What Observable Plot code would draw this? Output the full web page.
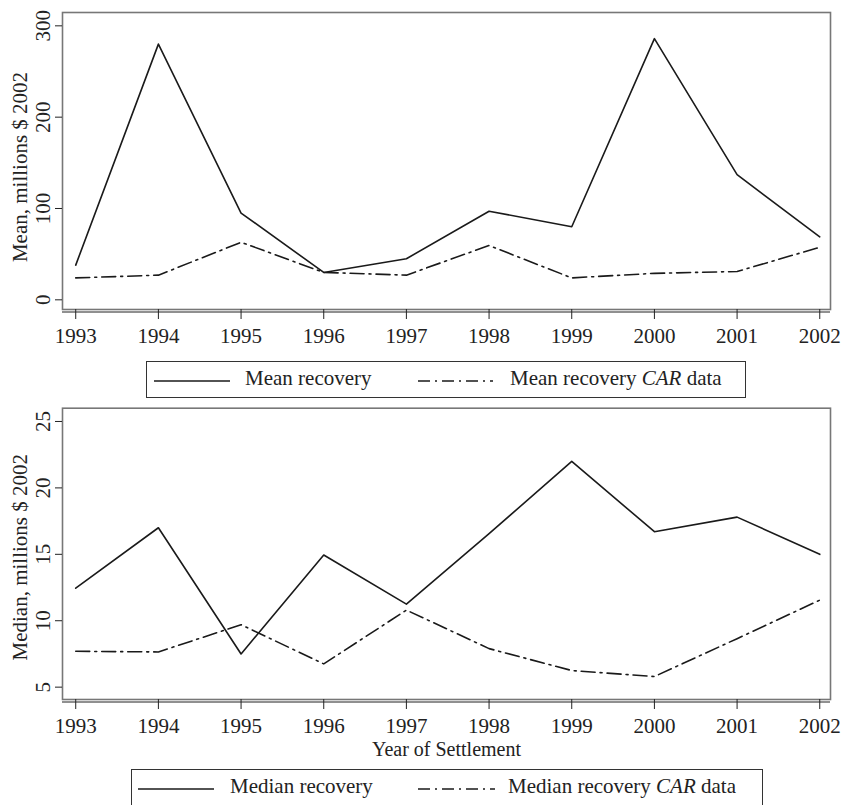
<!DOCTYPE html>
<html>
<head>
<meta charset="utf-8">
<script src="https://cdn.jsdelivr.net/npm/d3@7"></script>
<script src="https://cdn.jsdelivr.net/npm/@observablehq/plot@0.6"></script>
<style>
  html, body { margin: 0; padding: 0; background: white; }
  body { width: 841px; height: 805px; position: relative; overflow: hidden; font-family: 'Liberation Serif', 'Times New Roman', serif; color: #222; }
  .chart { position: absolute; left: 0; }
  .legend { position: absolute; border: 1.5px solid #333; box-sizing: border-box; background: white; }
  .legend .sample { position: absolute; }
  .legend .lab { position: absolute; font-size: 21px; line-height: 1; white-space: nowrap; }
</style>
</head>
<body>
<div id="top" class="chart" style="top:0px"></div>
<div id="legTop" class="legend" style="left:146px; top:361px; width:600px; height:37px;"></div>
<div id="bottom" class="chart" style="top:400px"></div>
<div id="legBottom" class="legend" style="left:131px; top:769px; width:632px; height:42px;"></div>
<script>
// ---- data ----
const years = [1993, 1994, 1995, 1996, 1997, 1998, 1999, 2000, 2001, 2002];
const meanRecovery    = [38, 280, 95, 30, 45, 97, 80, 286, 137, 69];
const meanRecoveryCAR = [24, 27, 63, 30, 27, 59.5, 24, 29, 31, 57.5];
const medianRecovery    = [12.45, 17.0, 7.5, 14.95, 11.25, 16.55, 22.0, 16.7, 17.8, 15.0];
const medianRecoveryCAR = [7.7, 7.65, 9.7, 6.75, 10.8, 7.9, 6.25, 5.8, 8.65, 11.55];
const meanTicks = [0, 100, 200, 300];
const medianTicks = [5, 10, 15, 20, 25];
const meanLabel = "Mean, millions $ 2002";
const medianLabel = "Median, millions $ 2002";
const xLabel = "Year of Settlement";
const meanSeries = ["Mean recovery", "Mean recovery"];
const medianSeries = ["Median recovery", "Median recovery"];

const DASH = "14,5,2,5";
const LINE = "#1a1a1a";

function toRows(vals) { return years.map((y, i) => ({year: y, value: vals[i]})); }

function makeChart({height, marginTop, marginBottom, yDomain, ticks, yLabel, labelDy, solid, dashed, xTitle}) {
  const marks = [
    Plot.frame({stroke: "#777", strokeWidth: 1.6}),
    Plot.ruleY([yDomain[0]], {dy: 2.5, stroke: "#222", strokeWidth: 1.2}),
    Plot.axisX({ticks: years, tickSize: 10, tickPadding: 8.5, tickFormat: d => String(d), label: null, stroke: "#222"}),
    Plot.axisY({ticks: ticks, tickSize: 7, tickFormat: () => "", label: null, stroke: "#222"}),
    Plot.text(ticks, {y: d => d, frameAnchor: "left", dx: -13, rotate: -90, textAnchor: "middle", lineAnchor: "bottom", fill: "#222"}),
    Plot.text([yLabel], {frameAnchor: "left", dx: -35.5, dy: labelDy, rotate: -90, textAnchor: "middle", lineAnchor: "bottom", fill: "#222"}),
    Plot.line(toRows(solid), {x: "year", y: "value", stroke: LINE, strokeWidth: 1.6}),
    Plot.line(toRows(dashed), {x: "year", y: "value", stroke: LINE, strokeWidth: 1.6, strokeDasharray: DASH})
  ];
  if (xTitle) marks.push(Plot.text([xTitle], {frameAnchor: "bottom", dy: 56, lineAnchor: "bottom", textAnchor: "middle", fill: "#222", fontSize: 20}));
  return Plot.plot({
    width: 841, height,
    marginLeft: 62, marginRight: 11, marginTop, marginBottom,
    x: {domain: [1992.84, 2002.13]},
    y: {domain: yDomain},
    style: {fontFamily: "'Liberation Serif', 'Times New Roman', serif", fontSize: "21px", color: "#222", background: "white", overflow: "visible"},
    marks
  });
}

document.getElementById("top").appendChild(makeChart({
  height: 350, marginTop: 12, marginBottom: 41, yDomain: [-10.6, 314.6], ticks: meanTicks,
  yLabel: meanLabel, labelDy: 6, solid: meanRecovery, dashed: meanRecoveryCAR
}));
document.getElementById("bottom").appendChild(makeChart({
  height: 362, marginTop: 7.7, marginBottom: 63, yDomain: [4.07, 26.0], ticks: medianTicks,
  yLabel: medianLabel, labelDy: 3.4, solid: medianRecovery, dashed: medianRecoveryCAR, xTitle: xLabel
}));

function sample(dashed, w) {
  const s = d3.create("svg").attr("width", w).attr("height", 6).attr("class", "sample");
  s.append("line").attr("x1", 0).attr("x2", w).attr("y1", 3).attr("y2", 3)
    .attr("stroke", LINE).attr("stroke-width", 1.6)
    .attr("stroke-dasharray", dashed ? "12,5,2,5" : null);
  return s;
}
function buildLegend(id, names, pos) {
  const box = d3.select("#" + id);
  box.node().appendChild(sample(false, pos.w1).style("left", pos.l1 + "px").style("top", (pos.ly - 3) + "px").node());
  box.append("div").attr("class", "lab").style("left", pos.t1 + "px").style("top", pos.tt + "px").text(names[0]);
  box.node().appendChild(sample(true, pos.w2).style("left", pos.l2 + "px").style("top", (pos.ly - 3) + "px").node());
  const t2 = box.append("div").attr("class", "lab").style("left", pos.t2 + "px").style("top", pos.tt + "px");
  t2.append("span").text(names[1] + " ");
  t2.append("i").text("CAR");
  t2.append("span").text(" data");
}
buildLegend("legTop", meanSeries, {l1: 7, w1: 76, t1: 98, l2: 271, w2: 75, t2: 363, ly: 18.5, tt: 6});
buildLegend("legBottom", medianSeries, {l1: 6, w1: 76, t1: 98, l2: 286, w2: 77, t2: 376, ly: 19, tt: 6});
</script>
</body>
</html>
